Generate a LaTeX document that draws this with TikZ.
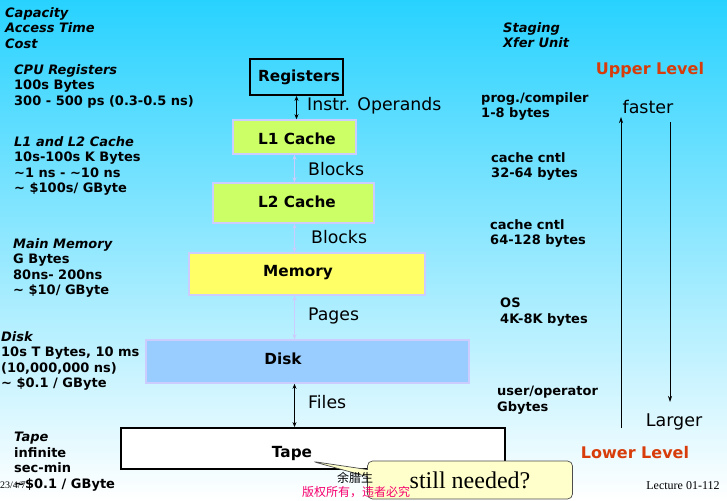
\documentclass[tikz,border=0pt]{standalone}
\usepackage{fontspec}
\setmainfont{DejaVu Sans}
\newfontfamily\cjkfont{Noto Sans CJK SC}
\newfontfamily\seriffont{Liberation Serif}
\usetikzlibrary{arrows.meta,shapes.callouts}
\definecolor{bgtop}{RGB}{40,210,255}
\definecolor{bgmid}{RGB}{172,236,255}
\definecolor{lav}{RGB}{204,204,255}
\definecolor{lgreen}{RGB}{204,255,102}
\definecolor{lyellow}{RGB}{255,255,102}
\definecolor{lblue}{RGB}{153,204,255}
\definecolor{lvlred}{RGB}{215,60,10}
\definecolor{notefill}{RGB}{255,255,204}
\definecolor{cpink}{RGB}{245,0,110}
\tikzset{
  info/.style={anchor=north west,inner sep=0pt,align=left,font=\bfseries\fontsize{13}{15.6}\selectfont},
  lvbox/.style={draw=lav,line width=1.6pt,inner sep=0pt},
  blkbox/.style={draw=black,line width=1.8pt,inner sep=0pt},
  boxlbl/.style={inner sep=0pt,font=\bfseries\fontsize{15.3}{18}\selectfont},
  xfer/.style={inner sep=0pt,anchor=west,font=\fontsize{17.3}{20}\selectfont},
  lvl/.style={inner sep=0pt,text=lvlred,font=\bfseries\fontsize{16}{19}\selectfont},
  darr/.style={<->,>={Stealth[length=5pt,width=4pt]},line width=0.8pt},
  larr/.style={darr,draw=lav},
  sarr/.style={->,>={Stealth[length=6pt,width=4pt]},line width=0.7pt}
}
\begin{document}
\begin{tikzpicture}[x=1pt,y=-1pt]
\useasboundingbox (0,0) rectangle (727,500);
\shade[top color=bgtop,middle color=bgmid,bottom color=white] (0,0) rectangle (727,500);

% boxes
\node[blkbox,minimum width=93,minimum height=36] (reg) at (296.5,77) {};
\node[lvbox,fill=lgreen,minimum width=123,minimum height=34] (l1) at (294.5,137) {};
\node[lvbox,fill=lgreen,minimum width=161,minimum height=40] (l2) at (293.5,203) {};
\node[lvbox,fill=lyellow,minimum width=236,minimum height=42] (mem) at (307,274) {};
\node[lvbox,fill=lblue,minimum width=323,minimum height=43] (disk) at (307.5,361.5) {};
\node[blkbox,fill=white,minimum width=384,minimum height=41] (tape) at (313,448.5) {};

\node[boxlbl] (reglbl) at (299,77) {Registers};
\node[boxlbl] (l1lbl) at (297,139) {L1 Cache};
\node[boxlbl] (l2lbl) at (297,202) {L2 Cache};
\node[boxlbl] (memlbl) at (298,273) {Memory};
\node[boxlbl] (disklbl) at (283,359) {Disk};
\node[boxlbl] (tapelbl) at (292,454) {Tape};

% transfer arrows
\draw[darr] (reg.south) -- (reg.south |- l1.north);
\draw[larr] (l1.south) -- (l1.south |- l2.north);
\draw[larr] (l1.south |- l2.south) -- (l1.south |- mem.north);
\draw[larr] (l1.south |- mem.south) -- (l1.south |- disk.north);
\draw[darr] (l1.south |- disk.south) -- (l1.south |- tape.north);

\node[xfer] (t1) at (307,106) {Instr. Operands};
\node[xfer] (t2) at (308,169) {Blocks};
\node[xfer] (t3) at (311,237) {Blocks};
\node[xfer] (t4) at (308,316) {Pages};
\node[xfer] (t5) at (308,402) {Files};

% left column
\node[info] (hdr) at (5,7) {\itshape Capacity\\\itshape Access Time\\\itshape Cost};
\node[info] (cpu) at (14,64) {\itshape CPU Registers\\100s Bytes\\300 - 500 ps (0.3-0.5 ns)};
\node[info] (cache) at (14,136) {\itshape L1 and L2 Cache\\10s-100s K Bytes\\\textasciitilde1 ns - \textasciitilde10 ns\\\textasciitilde{} \$100s/ GByte};
\node[info] (mm) at (13,238) {\itshape Main Memory\\G Bytes\\80ns- 200ns\\\textasciitilde{} \$10/ GByte};
\node[info] (dk) at (1,331) {\itshape Disk\\10s T Bytes, 10 ms\\(10,000,000 ns)\\\textasciitilde{} \$0.1 / GByte};
\node[info] (tp) at (14,432) {\itshape Tape\\infinite\\sec-min\\\textasciitilde\$0.1 / GByte};

% right column
\node[info] (stg) at (503,22) {\itshape Staging\\\itshape Xfer Unit};
\node[info] (prog) at (481,92) {prog./compiler\\1-8 bytes};
\node[info] (cc1) at (491,152) {cache cntl\\32-64 bytes};
\node[info] (cc2) at (490,219) {cache cntl\\64-128 bytes};
\node[info] (os) at (500,298) {OS\\4K-8K bytes};
\node[info] (usr) at (497,386) {user/operator\\Gbytes};

\node[lvl] (upper) at (650,70) {Upper Level};
\node[lvl] (lower) at (635,453) {Lower Level};
\node[inner sep=0pt,font=\fontsize{17.5}{20}\selectfont] (faster) at (648,107) {faster};
\node[inner sep=0pt,font=\fontsize{17.5}{20}\selectfont] (larger) at (674,422) {Larger};
\coordinate (upA) at (621,428);
\coordinate (upB) at (621,117);
\coordinate (dnA) at (670,122);
\coordinate (dnB) at (670,402);
\draw[sarr] (upA) -- (upB);
\draw[sarr] (dnA) -- (dnB);

% footer
\node[inner sep=0pt,font=\seriffont\fontsize{12}{14}\selectfont] (lect) at (683,486) {Lecture 01-112};
\node[inner sep=0pt,anchor=west,font=\seriffont\fontsize{10}{12}\selectfont] (date) at (0,485) {23/4/7};

% callout
\node[rectangle callout,rounded corners=5pt,draw=black!70,line width=0.7pt,fill=notefill,
      minimum width=205,minimum height=38,inner sep=0pt,
      callout absolute pointer={(tapelbl.south east)},
      font=\seriffont\fontsize{24}{28}\selectfont] (note) at (470,480) {still needed?};

\node[inner sep=0pt,font=\cjkfont\fontsize{12}{14}\selectfont] (author) at (355,478) {余腊生};
\node[inner sep=0pt,text=cpink,font=\cjkfont\fontsize{12}{14}\selectfont] (copy) at (356,492) {版权所有，违者必究};
\end{tikzpicture}
\end{document}
